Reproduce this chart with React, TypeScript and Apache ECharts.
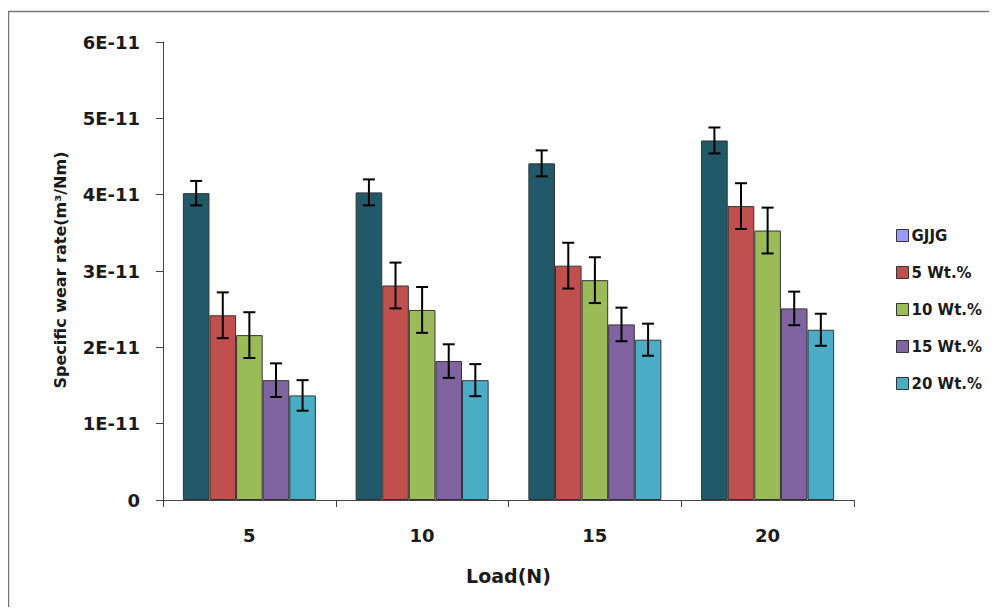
import React, { useEffect, useRef } from "react";
import * as echarts from "echarts";

const categories = ["5", "10", "15", "20"];
const seriesNames = ["GJJG", "5 Wt.%", "10 Wt.%", "15 Wt.%", "20 Wt.%"];
const gjjg = [4.02e-11, 4.03e-11, 4.41e-11, 4.71e-11];
const wt5 = [2.42e-11, 2.81e-11, 3.07e-11, 3.85e-11];
const wt10 = [2.16e-11, 2.49e-11, 2.88e-11, 3.53e-11];
const wt15 = [1.57e-11, 1.82e-11, 2.3e-11, 2.51e-11];
const wt20 = [1.37e-11, 1.57e-11, 2.1e-11, 2.23e-11];
const errGjjg = [0.16e-11, 0.17e-11, 0.17e-11, 0.17e-11];
const err5 = [0.3e-11, 0.3e-11, 0.3e-11, 0.3e-11];
const err10 = [0.3e-11, 0.3e-11, 0.3e-11, 0.3e-11];
const err15 = [0.22e-11, 0.22e-11, 0.22e-11, 0.22e-11];
const err20 = [0.2e-11, 0.21e-11, 0.21e-11, 0.21e-11];
const yTickLabels = ["0", "1E-11", "2E-11", "3E-11", "4E-11", "5E-11", "6E-11"];

const colors = ["#215968", "#C0504D", "#9BBB59", "#8064A2", "#4BACC6"];
const legendColors = ["#9999FF", "#C0504D", "#9BBB59", "#8064A2", "#4BACC6"];
const FONT = "'DejaVu Sans', sans-serif";
const CAT_GAP = 0.23;

export default function App() {
  const ref = useRef<HTMLDivElement>(null);
  useEffect(() => {
    if (!ref.current) return;
    const chart = echarts.init(ref.current, undefined, { renderer: "svg" });
    const values = [gjjg, wt5, wt10, wt15, wt20];
    const errs = [errGjjg, err5, err10, err15, err20];
    const errData: number[][] = [];
    values.forEach((arr, s) =>
      arr.forEach((v, c) => errData.push([c, v, errs[s][c], s]))
    );
    const barSeries = seriesNames.map((name, i) => ({
      name,
      type: "bar",
      data: values[i],
      barGap: "0%",
      barCategoryGap: CAT_GAP * 100 + "%",
      itemStyle: { color: colors[i], borderColor: "#333", borderWidth: 1 },
      z: 2,
    }));
    chart.setOption({
      animation: false,
      backgroundColor: "#fff",
      textStyle: { fontFamily: FONT },
      graphic: [
        {
          type: "rect",
          shape: { x: 8.5, y: 11.5, width: 1200, height: 800 },
          style: { fill: "none", stroke: "#777", lineWidth: 1.5 },
          silent: true,
          z: -1,
        },
        {
          type: "text",
          x: 60,
          y: 270,
          rotation: Math.PI / 2,
          style: {
            text: "Specific wear rate(m³/Nm)",
            font: "bold 16px " + FONT,
            fill: "#1a1a1a",
            align: "center",
            verticalAlign: "middle",
          },
        },
      ],
      legend: {
        orient: "vertical",
        left: 891,
        top: 223,
        itemWidth: 12,
        itemHeight: 12,
        itemGap: 22,
        icon: "rect",
        data: seriesNames.map((n, i) => ({
          name: n,
          itemStyle: { color: legendColors[i], borderColor: "#333", borderWidth: 1 },
        })),
        textStyle: { fontFamily: FONT, fontWeight: "bold", fontSize: 15, color: "#1a1a1a", padding: [0, 0, 0, -2] },
        selectedMode: false,
      },
      grid: { left: 163, right: 143, top: 42, bottom: 115 },
      xAxis: {
        type: "category",
        data: categories,
        name: "Load(N)",
        nameLocation: "middle",
        nameGap: 66,
        nameTextStyle: { fontFamily: FONT, fontWeight: "bold", fontSize: 19, color: "#1a1a1a" },
        axisLine: { lineStyle: { color: "#444", width: 1 } },
        axisTick: { show: true, length: 7, alignWithLabel: false, lineStyle: { color: "#444" } },
        axisLabel: { fontFamily: FONT, fontWeight: "bold", fontSize: 18, color: "#1a1a1a", margin: 26 },
      },
      yAxis: {
        type: "value",
        min: 0,
        max: 6e-11,
        interval: 1e-11,
        splitLine: { show: false },
        axisLine: { show: true, lineStyle: { color: "#444", width: 1 } },
        axisTick: { show: true, length: 7, lineStyle: { color: "#444" } },
        axisLabel: {
          fontFamily: FONT,
          fontWeight: "bold",
          fontSize: 18,
          color: "#1a1a1a",
          margin: 23,
          formatter: (_v: number, idx: number) => yTickLabels[idx],
        },
      },
      series: [
        ...barSeries,
        {
          name: "errors",
          type: "custom",
          data: errData,
          z: 10,
          encode: { x: 0, y: 1 },
          renderItem: (params: any, api: any) => {
            const c = api.value(0);
            const v = api.value(1);
            const e = api.value(2);
            const s = api.value(3);
            const band = api.size([1, 0])[0];
            const bw = (band * (1 - CAT_GAP)) / seriesNames.length;
            const center = api.coord([c, v]);
            const x = center[0] + (s - (seriesNames.length - 1) / 2) * bw;
            const top = api.coord([c, v + e])[1];
            const bot = api.coord([c, v - e])[1];
            const cap = 6;
            const st = { stroke: "#000", lineWidth: 2 };
            return {
              type: "group",
              children: [
                { type: "line", shape: { x1: x, y1: top, x2: x, y2: bot }, style: st },
                { type: "line", shape: { x1: x - cap, y1: top, x2: x + cap, y2: top }, style: st },
                { type: "line", shape: { x1: x - cap, y1: bot, x2: x + cap, y2: bot }, style: st },
              ],
            };
          },
        },
      ],
    });
    return () => chart.dispose();
  }, []);
  return <div ref={ref} style={{ width: 997, height: 615, margin: -8 }} />;
}
